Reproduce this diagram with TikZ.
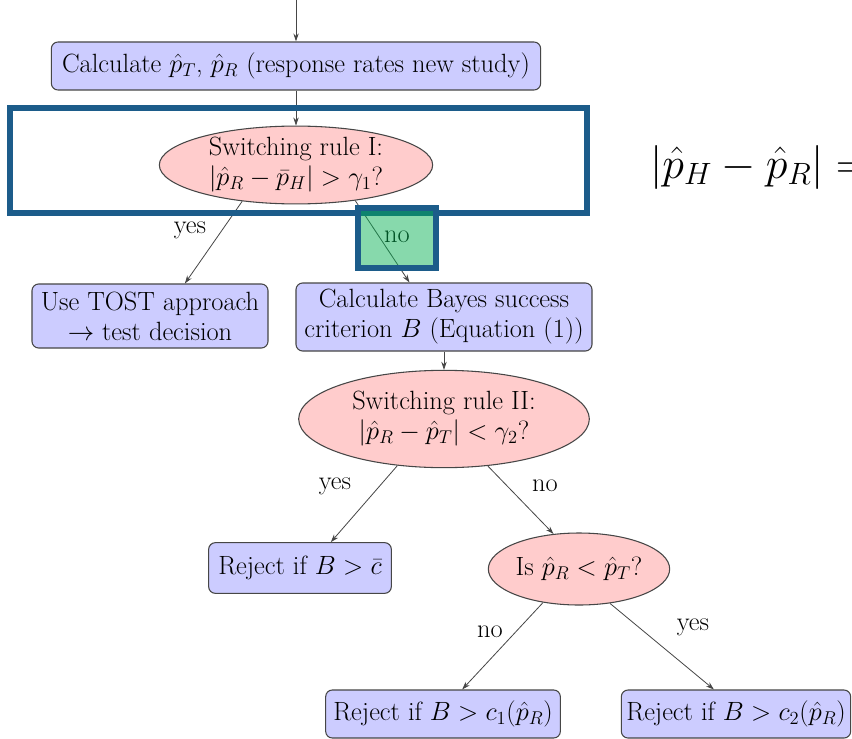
\RequirePackage{fix-cm}
\documentclass[tikz,border=0pt]{standalone}
\usetikzlibrary{shapes.geometric,arrows.meta}
\definecolor{boxfill}{RGB}{204,204,255}
\definecolor{ellfill}{RGB}{255,204,204}
\definecolor{edgegray}{RGB}{70,70,70}
\definecolor{frameblue}{RGB}{28,92,138}
\definecolor{markgreen}{RGB}{0,176,80}
\tikzset{
  every node/.style={font=\fontsize{19.8}{22.5}\selectfont},
  procbox/.style={draw=edgegray, line width=0.8pt, fill=boxfill, rounded corners=5pt,
    align=center, inner sep=0pt},
  decision/.style={ellipse, draw=edgegray, line width=0.8pt, fill=ellfill,
    align=center, inner sep=0pt},
  flow/.style={draw=edgegray, line width=0.6pt, -{Stealth[length=6pt,width=4pt]}},
  lbl/.style={inner sep=0pt}
}
\begin{document}
\begin{tikzpicture}[x=0.75pt, y=-0.75pt]
\useasboundingbox (0,0) rectangle (852,738);
\clip (0,0) rectangle (852,738);
\fill[white] (0,0) rectangle (852,738);

% process boxes
\node[procbox, minimum width=367pt, minimum height=36pt] (calc) at (296,66)
  {Calculate $\hat{p}_T$, $\hat{p}_R$ (response rates new study)};
\node[procbox, minimum width=177pt, minimum height=48pt] (tost) at (150,316)
  {Use TOST approach\\$\rightarrow$ test decision};
\node[procbox, minimum width=222pt, minimum height=51pt] (bayes) at (444,317)
  {Calculate Bayes success\\criterion $B$ (Equation (1))};
\node[procbox, minimum width=137pt, minimum height=38pt] (rejbar) at (300,568)
  {Reject if $B>\bar{c}$};
\node[procbox, minimum width=176pt, minimum height=36pt] (rejone) at (443,714)
  {Reject if $B>c_1(\hat{p}_R)$};
\node[procbox, minimum width=172pt, minimum height=36pt] (rejtwo) at (736,714)
  {Reject if $B>c_2(\hat{p}_R)$};

% decision ellipses
\node[decision, minimum width=205pt, minimum height=56pt] (ruleone) at (296,165)
  {Switching rule I:\\$|\hat{p}_R-\bar{p}_H|>\gamma_1$?};
\node[decision, minimum width=218pt, minimum height=73pt] (ruletwo) at (444,419)
  {Switching rule II:\\$|\hat{p}_R-\hat{p}_T|<\gamma_2$?};
\node[decision, minimum width=136pt, minimum height=54pt] (isless) at (579,569)
  {Is $\hat{p}_R<\hat{p}_T$?};

% connectors
\coordinate (start) at (296,0);
\draw[flow] (start) -- (calc.north);
\draw[flow] (calc.south) -- (ruleone.north);
\draw[flow] (ruleone.214) -- (tost.43);
\draw[flow] (ruleone.329) -- (bayes.135);
\draw[flow] (bayes.south) -- (ruletwo.north);
\draw[flow] (ruletwo.225) -- (rejbar.40);
\draw[flow] (ruletwo.313) -- (isless.126);
\draw[flow] (isless.223) -- (rejone.52);
\draw[flow] (isless.312) -- (rejtwo.132);

% branch labels
\node[lbl] (yesone) at (190,230) {yes};
\node[lbl] (noone) at (397,237) {no};
\node[lbl] (yestwo) at (335,486) {yes};
\node[lbl] (notwo) at (545,486) {no};
\node[lbl] (nothree) at (490,632) {no};
\node[lbl] (yesthree) at (693,627) {yes};

% highlight frame around the first switching rule
\draw[frameblue, line width=3.8pt] (10,108) rectangle (587,213);
\fill[markgreen, fill opacity=0.47] (358,208) rectangle (436,268);
\draw[frameblue, line width=3.8pt] (358,208) rectangle (436,268);

% side formula
\node[anchor=west, inner sep=0pt, font=\fontsize{33}{38}\selectfont] (sideeq) at (650,167)
  {$|\hat{p}_H-\hat{p}_R|=$};
\end{tikzpicture}
\end{document}
